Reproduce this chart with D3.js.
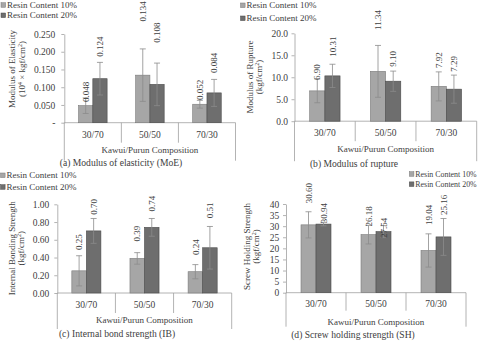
<!DOCTYPE html>
<html>
<head>
<meta charset="utf-8">
<script src="https://cdn.jsdelivr.net/npm/d3@7"></script>
<style>
  body { margin: 0; background: #fff; }
  text { font-family: "Liberation Serif", "Times New Roman", serif; fill: #404040; }
</style>
</head>
<body>
<div id="chart"></div>
<script>
// categories and series
var categories = ["30/70", "50/50", "70/30"];
var seriesNames = ["Resin Content 10%", "Resin Content 20%"];
var groupTitle = "Kawui/Purun Composition";

// (a) modulus of elasticity
var moe10 = [0.048, 0.134, 0.052];
var moe20 = [0.124, 0.108, 0.084];
var moe10Err = [0.022, 0.074, 0.011];
var moe20Err = [0.046, 0.060, 0.038];
var moeLabels10 = ["0.048", "0.134", "0.052"];
var moeLabels20 = ["0.124", "0.108", "0.084"];
var moeTicks = [0, 0.05, 0.1, 0.15, 0.2, 0.25];
var moeTickLabels = ["-", "0.050", "0.100", "0.150", "0.200", "0.250"];

// (b) modulus of rupture
var mor10 = [6.90, 11.34, 7.92];
var mor20 = [10.31, 9.10, 7.29];
var mor10Err = [2.7, 5.9, 3.3];
var mor20Err = [2.65, 2.3, 3.2];
var morLabels10 = ["6.90", "11.34", "7.92"];
var morLabels20 = ["10.31", "9.10", "7.29"];
var morTicks = [0, 5, 10, 15, 20];
var morTickLabels = ["0.0", "5.0", "10.0", "15.0", "20.0"];

// (c) internal bond strength
var ib10 = [0.25, 0.39, 0.24];
var ib20 = [0.70, 0.74, 0.51];
var ib10Err = [0.17, 0.065, 0.08];
var ib20Err = [0.14, 0.10, 0.24];
var ibLabels10 = ["0.25", "0.39", "0.24"];
var ibLabels20 = ["0.70", "0.74", "0.51"];
var ibTicks = [0, 0.2, 0.4, 0.6, 0.8, 1.0];
var ibTickLabels = ["0.00", "0.20", "0.40", "0.60", "0.80", "1.00"];

// (d) screw holding strength
var sh10 = [30.60, 26.18, 19.04];
var sh20 = [30.94, 27.54, 25.16];
var sh10Err = [5.9, 4.2, 7.5];
var sh20Err = [0.8, 2.7, 8.3];
var shLabels10 = ["30.60", "26.18", "19.04"];
var shLabels20 = ["30.94", "27.54", "25.16"];
var shTicks = [0, 5, 10, 15, 20, 25, 30, 35, 40];
var shTickLabels = ["0", "5", "10", "15", "20", "25", "30", "35", "40"];

var barFill = ["#a6a6a6", "#6e6e6e"];
var barStroke = ["#7a7a7a", "#4a4a4a"];
var lineColor = "#a0a0a0";

var svg = d3.select("#chart").append("svg")
  .attr("width", 480)
  .attr("height", 341);

svg.append("rect").attr("width", 480).attr("height", 341).attr("fill", "#fff");

function drawPanel(p) {
  var g = svg.append("g");

  var y = d3.scaleLinear().domain([0, p.max]).range([p.zeroY, p.topY]);
  var x = d3.scaleBand().domain(categories).range([p.x0, p.x1]);
  var xs = d3.scaleBand().domain([0, 1]).range([0, x.bandwidth()])
    .paddingInner(0).paddingOuter(1);

  // y axis
  var yAxis = d3.axisLeft(y)
    .tickValues(p.ticks)
    .tickFormat(function(d, i) { return p.tickLabels[i]; })
    .tickSize(3)
    .tickSizeOuter(0)
    .tickPadding(p.tickPad);
  var ax = g.append("g")
    .attr("transform", "translate(" + p.x0 + ",0)")
    .call(yAxis);
  ax.selectAll("path, line").attr("stroke", lineColor).attr("stroke-width", 0.8);
  ax.selectAll("text")
    .style("font-family", '"Liberation Serif", "Times New Roman", serif')
    .style("font-size", "9.5px")
    .attr("fill", "#404040");

  // category axis, two levels
  g.append("line")
    .attr("x1", p.x0).attr("x2", p.x1)
    .attr("y1", p.zeroY).attr("y2", p.zeroY)
    .attr("stroke", lineColor).attr("stroke-width", 0.8);
  var edges = categories.map(function(c) { return x(c); }).concat([p.x1]);
  g.selectAll(".sep").data(edges).enter().append("line")
    .attr("x1", function(d) { return d; })
    .attr("x2", function(d) { return d; })
    .attr("y1", p.zeroY)
    .attr("y2", function(d, i) { return (i == 0 || i == edges.length - 1) ? p.zeroY + p.outerLen : p.zeroY + p.sepLen; })
    .attr("stroke", lineColor).attr("stroke-width", 0.8);

  g.selectAll(".cat").data(categories).enter().append("text")
    .attr("x", function(d) { return x(d) + x.bandwidth() / 2; })
    .attr("y", p.catY)
    .attr("dy", "0.35em")
    .attr("text-anchor", "middle")
    .style("font-size", "9.5px")
    .text(function(d) { return d; });

  g.append("text")
    .attr("x", (p.x0 + p.x1) / 2)
    .attr("y", p.groupY)
    .attr("dy", "0.35em")
    .attr("text-anchor", "middle")
    .style("font-size", "9px")
    .text(groupTitle);

  // bars
  var rows = [];
  categories.forEach(function(c, i) {
    p.series.forEach(function(s, k) {
      rows.push({cat: c, k: k, v: s.values[i], e: s.err[i], lab: s.labels[i], at: s.labelAt[i]});
    });
  });

  var bars = g.selectAll(".bar").data(rows).enter().append("g");

  bars.append("rect")
    .attr("x", function(d) { return x(d.cat) + xs(d.k); })
    .attr("y", function(d) { return y(d.v); })
    .attr("width", xs.bandwidth())
    .attr("height", function(d) { return y(0) - y(d.v); })
    .attr("fill", function(d) { return barFill[d.k]; })
    .attr("stroke", function(d) { return barStroke[d.k]; })
    .attr("stroke-width", 0.6);

  // error bars
  var cx = function(d) { return x(d.cat) + xs(d.k) + xs.bandwidth() / 2; };
  bars.append("line")
    .attr("x1", cx).attr("x2", cx)
    .attr("y1", function(d) { return y(d.v + d.e); })
    .attr("y2", function(d) { return y(Math.max(0, d.v - d.e)); })
    .attr("stroke", "#8c8c8c").attr("stroke-width", 0.8);
  [1, -1].forEach(function(sgn) {
    bars.append("line")
      .attr("x1", function(d) { return cx(d) - 3; })
      .attr("x2", function(d) { return cx(d) + 3; })
      .attr("y1", function(d) { return y(d.v + sgn * d.e); })
      .attr("y2", function(d) { return y(d.v + sgn * d.e); })
      .attr("stroke", "#8c8c8c").attr("stroke-width", 0.8);
  });

  // value labels, rotated
  bars.append("text")
    .attr("transform", function(d) { return "translate(" + cx(d) + "," + y(d.at) + ") rotate(-90)"; })
    .attr("dy", "0.35em")
    .attr("text-anchor", "start")
    .style("font-size", "9px")
    .text(function(d) { return d.lab; });

  // y title, two lines
  p.titleLines.forEach(function(t) {
    var tx = g.append("text")
      .attr("transform", "translate(" + t.x + "," + p.titleY + ") rotate(-90)")
      .attr("dy", "0.35em")
      .attr("text-anchor", "middle")
      .style("font-size", "9px");
    t.parts.forEach(function(part) {
      var ts = tx.append("tspan").text(part[0]);
      if (part[1] == "sup") {
        ts.style("font-size", "6px").attr("dy", "-3");
      } else if (part[1] == "after") {
        ts.attr("dy", "3");
      }
    });
  });

  // legend
  seriesNames.forEach(function(name, k) {
    var ly = p.legendY[k];
    g.append("rect")
      .attr("x", p.legendX).attr("y", ly - 2.3)
      .attr("width", 4.6).attr("height", 4.6)
      .attr("fill", barFill[k]).attr("stroke", barStroke[k]).attr("stroke-width", 0.5);
    g.append("text")
      .attr("x", p.legendX + 6)
      .attr("y", ly)
      .attr("dy", "0.35em")
      .style("font-size", p.legendSize)
      .text(name);
  });

  // caption
  g.append("text")
    .attr("x", p.capX)
    .attr("y", p.capY)
    .attr("dy", "0.35em")
    .attr("text-anchor", "middle")
    .style("font-size", "9.6px")
    .attr("fill", "#1a1a1a")
    .text(p.caption);
}

drawPanel({
  max: 0.25, ticks: moeTicks, tickLabels: moeTickLabels, tickPad: 6,
  x0: 64.3, x1: 235.5, zeroY: 122.7, topY: 34,
  sepLen: 20, outerLen: 38, catY: 135, groupY: 150,
  series: [
    {values: moe10, err: moe10Err, labels: moeLabels10, labelAt: [0.0585, 0.2853, 0.0641]},
    {values: moe20, err: moe20Err, labels: moeLabels20, labelAt: [0.1856, 0.2252, 0.1404]}
  ],
  titleY: 69,
  titleLines: [
    {x: 12.3, parts: [["Modulus of Elasticity"]]},
    {x: 21.5, parts: [["(10"], ["4", "sup"], [" × kgf/cm", "after"], ["2", "sup"], [")", "after"]]}
  ],
  legendX: 1, legendY: [5, 15.3], legendSize: "9px",
  capX: 121, capY: 163, caption: "(a) Modulus of elasticity (MoE)"
});

drawPanel({
  max: 20, ticks: morTicks, tickLabels: morTickLabels, tickPad: 3.5,
  x0: 294.5, x1: 476.7, zeroY: 121.2, topY: 33.3,
  sepLen: 20, outerLen: 40, catY: 132.5, groupY: 148.5,
  series: [
    {values: mor10, err: mor10Err, labels: morLabels10, labelAt: [9.39, 20.75, 12.12]},
    {values: mor20, err: mor20Err, labels: morLabels20, labelAt: [14.68, 12.41, 11.27]}
  ],
  titleY: 77,
  titleLines: [
    {x: 250, parts: [["Modulus of Rupture"]]},
    {x: 259.3, parts: [["(kgf/cm"], ["2", "sup"], [")", "after"]]}
  ],
  legendX: 240.5, legendY: [5.3, 18.3], legendSize: "9px",
  capX: 354, capY: 163.3, caption: "(b) Modulus of rupture"
});

drawPanel({
  max: 1.0, ticks: ibTicks, tickLabels: ibTickLabels, tickPad: 5,
  x0: 57.3, x1: 231.7, zeroY: 293, topY: 204.3,
  sepLen: 20, outerLen: 36, catY: 305, groupY: 320,
  series: [
    {values: ib10, err: ib10Err, labels: ibLabels10, labelAt: [0.486, 0.58, 0.429]},
    {values: ib20, err: ib20Err, labels: ibLabels20, labelAt: [0.881, 0.918, 0.844]}
  ],
  titleY: 248.3,
  titleLines: [
    {x: 12.3, parts: [["Internal Bonding Strength"]]},
    {x: 21, parts: [["(kgf/cm"], ["2", "sup"], [")", "after"]]}
  ],
  legendX: 0.5, legendY: [175.3, 187], legendSize: "9px",
  capX: 117, capY: 333.3, caption: "(c) Internal bond strength (IB)"
});

drawPanel({
  max: 40, ticks: shTicks, tickLabels: shTickLabels, tickPad: 3.7,
  x0: 286, x1: 466, zeroY: 292.7, topY: 204,
  sepLen: 18, outerLen: 34, catY: 303.3, groupY: 321.7,
  series: [
    {values: sh10, err: sh10Err, labels: shLabels10, labelAt: [40.3, 29.8, 30.5]},
    {values: sh20, err: sh20Err, labels: shLabels20, labelAt: [31.3, 24.7, 35.0]}
  ],
  titleY: 246.5,
  titleLines: [
    {x: 246.7, parts: [["Screw Holding Strength"]]},
    {x: 255.7, parts: [["(kgf/cm"], ["2", "sup"], [")", "after"]]}
  ],
  legendX: 409.3, legendY: [174, 184.2], legendSize: "7.9px",
  capX: 353, capY: 335, caption: "(d) Screw holding strength (SH)"
});
</script>
</body>
</html>
